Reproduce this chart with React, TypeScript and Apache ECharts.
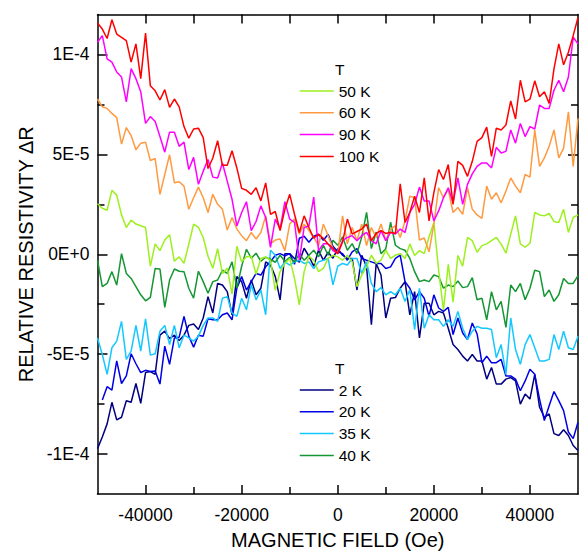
import React, { useEffect, useRef } from "react";
import * as echarts from "echarts";

// Magnetic field grid (Oe)
const FIELD_START = -50000;
const FIELD_STEP = 1000;
const FIELD_COUNT = 101;
const fieldOe: number[] = Array.from({ length: FIELD_COUNT }, (_, i) => FIELD_START + i * FIELD_STEP);

// Relative resistivity ΔR, in units of 1E-6
const SCALE = 1e-6;

const r2K: (number | null)[] = [
  -97.3, -91.5, -84.9, -74.1, -82.9, -81.6, -73.3, -74.1, -64.7, -74.6,
  -59.2, -58.7, -60.1, -40.5, -38.5, -42.2, -40.5, -43.2, -40.5, -35.6,
  -34.9, -37.7, -31.9, -21.2, -29.4, -14.6, -15.4, -18.7, -30.3, -11.2,
  -13.7, -22, -12.9, -20.3, -17, -3.8, -5.4, -11.2, -22.8, 0.3,
  0.3, -2.1, -4, 3, -1, -6, 2, -3, 1, -2,
  2.8,
  -0.5, -2.1, -2.1, -17.9, -0.5, -6.3, -35.3, -4.6, -10.4, -31.9,
  -22, -21.7, -17, -13.7, -30.3, -18.7, -41.9, -24.5, -24.5, -30.3,
  -28.6, -29.4, -37, -45.2, -47.7, -51, -53.4, -50.2, -53.4, -53.4,
  -62.5, -56.7, -65, -65, -62.5, -61.7, -63.4, -75, -70, -72.5,
  -60.1, -76.6, -81.6, -79.9, -89.8, -90.7, -87.8, -90.7, -95.7, -98.2,
];

const r20K: (number | null)[] = [
  null,
  -73, -66.3, -68, -53.4, -64.7, -60.9, -49.8, -54.8, -59.2, -58.1,
  -58.7, -58.4, -65, -46, -55.1, -41.9, -41.5, -31.1, -41, -46.5,
  -40.5, -41, -32.3, -32.8, -32.8, -30.3, -29.4, -32.8, -17, -11.2,
  -17.9, -13.7, -9.6, -10.4, -6.3, -3.8, -0.5, 0.3, -0.8, 0.3,
  -5, 8, 9, 6, 9, 10, 7, 10, 4, 1.2,
  0.3, -3, 1.2, 2.8, -2.1, -3, -3.8, -4.6, -4.6, -7.1,
  -6.3, -2.1, -0.5, -13.7, -17, -22.8, -18.7, -22, -31.1, -20.3,
  -26.9, -28.6, -26.6, -40.2, -31.9, -39.4, -42.7, -34.4, -39.9, -54.3,
  -51, -54.3, -54.3, -52.6, -60.9, -60.9, -62.5, -68.3, -63.4, -57.6,
  -60.1, -72.5, -83.2, -75.8, -68.7, -73.3, -78.3, -89, -92.3, -84.1,
];

const r35K: (number | null)[] = [
  -41.9, -50.2, -60.1, -46.8, -43.5, -33.6, -52.6, -48.5, -35.6, -48.5,
  -32.3, -50.5, -49.8, -38.5, -35.6, -45.2, -35.6, -46.8, -40.5, -41.9,
  -43.5, -41, -35.6, -31.9, -31.9, -33.6, -22, -21.2, -29.4, -31.1,
  -22, -27.8, -15.3, -22.8, -17.9, -30.3, 2, -0.5, -7.1, -3.8,
  -5.4, -3.8, -3, -4.6, -3.8, -7.1, -3.8, -3, -2.1, -15.3,
  -6,
  -4.6, -5.4, -2.1, -2.1, -9.6, -3.8, -14.6, -18.7, -16.7, -20.3,
  -18.7, -20.3, -17, -23.6, -17.9, -37.7, -17, -37, -30.3, -32.8,
  -32.8, -36.1, -32.8, -36.1, -28.6, -37, -42.7, -38.5, -36.1, -37,
  -37, -37.7, -51.8, -45.2, -60.1, -31.9, -47.7, -55.1, -45.2, -40.2,
  -46.8, -53.4, -53.4, -52.6, -40.2, -47.7, -38.5, -46.8, -47.7, -41,
];

const r40K: (number | null)[] = [
  -3, -16.2, -14.6, -8.7, -15.4, 0.3, -9.6, -12.1, -16.2, -20.3,
  -23.3, -21.6, -7.1, -7.4, -26.6, -12.9, -7.4, -8.5, -8.7, -17,
  -22, -8.5, -13.7, -19.5, -13.7, -12.9, -8, -9.6, -3.8, -17,
  -6, 2.5, -2, 0.5, -3.5, -1.5, -2.5, -4, -0.5, -3.5,
  -1.5, -4, 0.3, -3, -0.5, 2, -1.3, 4.5, -0.5, 7,
  4.5,
  8.7, 2, 5.3, 0.3, 8.7, 21, 2.8, 11.1, 0.3, 2.8,
  16.1, 4.5, 2.8, 2, -2.1, -8.7, -13.7, -12.9, -13.7, -10.4,
  -11.2, -17, -15.4, -16.2, -13.4, -16.7, -16.2, -11.7, -22.8, -22,
  -32.8, -18.7, -27.8, -23.6, -36.6, -15.4, -18.7, -14.6, -22.8, -17,
  -8, -8.7, -21.2, -17.9, -23.6, -20.3, -12.1, -14.6, -14.6, -10.7,
];

const r50K: (number | null)[] = [
  25.3, 23, 22, 32, 29.6, 19.7, 13.4, 17.1, 15.1, 14.3,
  13.4, -6, 5.2, 1.8, 7.1, 9.8, -3.5, -1.3, -4.5, 5,
  15.1, 13.5, 8.4, -1, -7, 2.8, -9.6, -7, -20, 4,
  -3.8, -1.3, -1, -10, -2.1, -1.3, -3, -18, -8.7, -4.6,
  -2.1, -12.1, -25.3, -8.7, -1, -3, -8.7, -7.1, -2.1, -0.5,
  -1.3,
  -3, -0.5, -3.8, -16.2, -10.4, -6.3, -0.5, -4.6, -3, 2,
  -2.1, -0.5, 0.3, -2.1, 5.2, -0.6, 1.8, 0.3, 8.6, 15.9,
  -8, -28, -5, -24, -0.6, -6, 8.4, 6.8, 1, 4.3,
  5.2, 6.8, 8.4, 5.2, 0.5, 10.1, 19.2, 5.2, 3.5, 5.5,
  20.9, 19.7, 19.2, 20.4, 16.4, 15.9, 22.5, 10.9, 18.4, 19.7,
];

const r60K: (number | null)[] = [
  77.7, 73.8, 73, 70.5, 68.4, 55.1, 63.4, 59.4, 52.3, 55.6,
  56.1, 46.9, 47.9, 30, 39.9, 49.8, 35.8, 36.3, 34.1, 22.5,
  28.3, 33.6, 28.3, 20.9, 30, 25, 22.5, 12.1, 18.4, 12.6,
  9.3, 6.8, 10.9, 7.6, 10.9, 19.2, 5.2, 7.1, 7.6, 1.8,
  15.1, 17.6, 10.1, 15.1, 11.8, 8.4, 4.3, 15.1, 9.3, 2.7,
  0.2,
  19.2, 5.2, 13.4, 6.8, 15.1, 4.3, 13.4, 8.4, 15.1, 6.8,
  12.6, 14.2, 8.4, 16.7, 29.1, 28.3, 7.1, 8.1, 1.2, 15.1,
  33.3, 28.3, 32.4, 20.9, 23.4, 20, 33.3, 22.5, 19.7, 18,
  34.1, 27.5, 30.8, 25.8, 31.6, 38.2, 34.1, 30.8, 39.9, 38.6,
  62.2, 44, 48.2, 54, 62.2, 48.2, 53.1, 71.3, 44, 68,
];

const r90K: (number | null)[] = [
  106.1, 109.4, 97.8, 96.2, 91.2, 88.7, 76.3, 92.9, 87.9, 81.3,
  65.5, 68.9, 66.4, 58.9, 51.1, 61.1, 61.1, 54, 56.1, 42.4,
  48.5, 35, 41.6, 47.4, 38.6, 38.2, 45.7, 36.6, 27.5, 14.2,
  20.9, 26.3, 11.8, 16.4, 24.2, 18.4, 3.5, 17.6, 12.6, 26.3,
  17.6, 15.9, -3, 13.4, 14.2, 28.6, 1.8, 5.2, 5.2, 1.8,
  0.5,
  6.8, 8.4, 9.3, 6.8, 9.3, 10.9, 6.8, 5.2, 11.8, 6.8,
  10.9, 10.1, 12.6, 10.9, 20.9, 25, 33.6, 26.7, 26.7, 16.7,
  21.7, 28.3, 33.3, 25.8, 38.2, 25, 35, 40.2, 44, 45.7,
  45.7, 43.2, 53.5, 50.7, 51.5, 62.2, 55.6, 65.5, 58.9, 63.9,
  62.7, 74.7, 73, 73, 82.1, 87.1, 81.3, 88.7, 108.6, 105.3,
];

const r100K: (number | null)[] = [
  115.7, 112.7, 108, 117.4, 110.2, 108.6, 106.9, 96.2, 105.3, 87.9,
  110.7, 84.3, 81.8, 77.2, 82.4, 73.5, 77.7, 73.8, 63.9, 58.1,
  62.7, 63.1, 58.4, 42.9, 48.2, 56.8, 44.5, 44.5, 51.8, 43.2,
  33, 32, 30, 33.3, 26.7, 35.7, 20, 21.4, 11.8, 22.5,
  30, 20, 10.9, 19.2, 13.4, 8, 10, 8, 5, 3,
  0.3,
  6.1, 17.6, 10.1, 11.4, 12.6, 15.1, 6.8, 10.4, 11.8, 10.4,
  11, 10.4, 35.3, 15.9, 20.9, 29.1, 20.9, 38.2, 16.7, 30.8,
  42.4, 37.4, 44.9, 25, 46.5, 44.5, 39, 46.5, 56.5, 58.4,
  63.6, 49, 63.1, 62.2, 64.7, 76.7, 67.7, 87.1, 76.3, 77.6,
  86.8, 78.8, 81.3, 75.5, 92.8, 105.3, 94.8, 101.1, 109.4, 118.5,
];

const seriesNames = ["2 K", "20 K", "35 K", "40 K", "50 K", "60 K", "90 K", "100 K"];
const seriesValues = [r2K, r20K, r35K, r40K, r50K, r60K, r90K, r100K];
const seriesColors = ["#000080", "#0000E6", "#14C8FF", "#149632", "#9CF01E", "#FF9A40", "#FF00FF", "#FF0000"];

const legendHigh = ["50 K", "60 K", "90 K", "100 K"];
const legendLow = ["2 K", "20 K", "35 K", "40 K"];
const legendTitle = "T";

const xMin = -50000;
const xMax = 50000;
const xMajorTicks = [-40000, -20000, 0, 20000, 40000];
const xMinorTicks = [-30000, -10000, 10000, 30000];
const xAllTicks = [-40000, -30000, -20000, -10000, 0, 10000, 20000, 30000, 40000];

const yMin = -1.2e-4;
const yMax = 1.2e-4;
const yMajorTicks = [-1e-4, -5e-5, 0, 5e-5, 1e-4];
const yTickLabels = ["-1E-4", "-5E-5", "0E+0", "5E-5", "1E-4"];
const yMinorTicks = [-7.5e-5, -2.5e-5, 2.5e-5, 7.5e-5];

const xTitle = "MAGNETIC FIELD (Oe)";
const yTitle = "RELATIVE RESISTIVITY \u0394R";

const FONT = "'Liberation Sans', Arial, Helvetica, sans-serif";
const AX = "#000";

function yLabel(v: number): string {
  for (let i = 0; i < yMajorTicks.length; i++) {
    if (Math.abs(yMajorTicks[i] - v) < 1e-9) return yTickLabels[i];
  }
  return "";
}

export default function App() {
  const ref = useRef<HTMLDivElement>(null);

  useEffect(() => {
    if (!ref.current) return;
    const chart = echarts.init(ref.current, undefined, { renderer: "svg" });

    const tickStyle = { color: AX, width: 1.5 };
    const plainAxis = {
      type: "value",
      splitLine: { show: false },
      axisLabel: { show: false },
    };

    const series = seriesNames.map((name, k) => ({
      name,
      type: "line",
      xAxisIndex: 0,
      yAxisIndex: 0,
      symbol: "none",
      showSymbol: false,
      silent: true,
      lineStyle: { width: 1.5, color: seriesColors[k] },
      itemStyle: { color: seriesColors[k] },
      emphasis: { disabled: true },
      data: fieldOe
        .map((x, i) => [x, seriesValues[k][i]])
        .filter((p) => p[1] !== null)
        .map((p) => [p[0] as number, (p[1] as number) * SCALE]),
    }));

    const legendCommon = {
      orient: "vertical",
      left: 299,
      padding: 0,
      itemWidth: 34,
      itemHeight: 18,
      itemGap: 3.8,
      selectedMode: false,
      itemStyle: { opacity: 0, borderWidth: 0 },
      lineStyle: { width: 1.5 },
      textStyle: { fontSize: 15.5, color: "#000", fontFamily: FONT, lineHeight: 18 },
    };

    chart.setOption({
      animation: false,
      backgroundColor: "#fff",
      grid: { left: 97.5, top: 14.5, width: 480.5, height: 481, containLabel: false },
      xAxis: [
        {
          type: "value",
          min: xMin,
          max: xMax,
          position: "bottom",
          axisLine: { show: true, onZero: false, lineStyle: tickStyle },
          axisTick: { show: true, inside: true, length: 9, customValues: xMajorTicks, lineStyle: tickStyle },
          axisLabel: {
            show: true,
            customValues: xMajorTicks,
            formatter: (v: number) => String(v),
            fontSize: 17.5,
            color: "#000",
            fontFamily: FONT,
            margin: 12,
          },
          splitLine: { show: false },
          name: xTitle,
          nameLocation: "middle",
          nameGap: 36,
          nameTextStyle: { fontSize: 20, color: "#000", fontFamily: FONT },
        },
        {
          ...plainAxis,
          min: xMin,
          max: xMax,
          position: "bottom",
          axisLine: { show: false, onZero: false },
          axisTick: { show: true, inside: true, length: 7, customValues: xMinorTicks, lineStyle: tickStyle },
        },
        {
          ...plainAxis,
          min: xMin,
          max: xMax,
          position: "top",
          axisLine: { show: true, onZero: false, lineStyle: tickStyle },
          axisTick: { show: true, inside: true, length: 9, customValues: xAllTicks, lineStyle: tickStyle },
        },
      ],
      yAxis: [
        {
          type: "value",
          min: yMin,
          max: yMax,
          position: "left",
          axisLine: { show: true, onZero: false, lineStyle: tickStyle },
          axisTick: { show: true, inside: true, length: 10, customValues: yMajorTicks, lineStyle: tickStyle },
          axisLabel: {
            show: true,
            customValues: yMajorTicks,
            formatter: (v: number) => yLabel(v),
            fontSize: 17.5,
            color: "#000",
            fontFamily: FONT,
            margin: 8,
          },
          splitLine: { show: false },
          name: yTitle,
          nameLocation: "middle",
          nameGap: 62,
          nameTextStyle: { fontSize: 20, color: "#000", fontFamily: FONT },
        },
        {
          ...plainAxis,
          min: yMin,
          max: yMax,
          position: "left",
          axisLine: { show: false, onZero: false },
          axisTick: { show: true, inside: true, length: 7, customValues: yMinorTicks, lineStyle: tickStyle },
        },
        {
          ...plainAxis,
          min: yMin,
          max: yMax,
          position: "right",
          axisLine: { show: true, onZero: false, lineStyle: tickStyle },
          axisTick: { show: true, inside: true, length: 10, customValues: yMajorTicks, lineStyle: tickStyle },
        },
        {
          ...plainAxis,
          min: yMin,
          max: yMax,
          position: "right",
          axisLine: { show: false, onZero: false },
          axisTick: { show: true, inside: true, length: 7, customValues: yMinorTicks, lineStyle: tickStyle },
        },
      ],
      legend: [
        { ...legendCommon, top: 82, data: legendHigh },
        { ...legendCommon, top: 381, data: legendLow },
      ],
      graphic: [
        {
          type: "text",
          x: 335,
          y: 69,
          silent: true,
          style: { text: legendTitle, fill: "#000", fontSize: 15.5, fontFamily: FONT, verticalAlign: "middle" },
        },
        {
          type: "text",
          x: 335,
          y: 368,
          silent: true,
          style: { text: legendTitle, fill: "#000", fontSize: 15.5, fontFamily: FONT, verticalAlign: "middle" },
        },
      ],
      series,
    });

    return () => {
      chart.dispose();
    };
  }, []);

  return (
    <div
      ref={ref}
      style={{ position: "fixed", left: 0, top: 0, width: 579, height: 555, background: "#fff" }}
    />
  );
}
